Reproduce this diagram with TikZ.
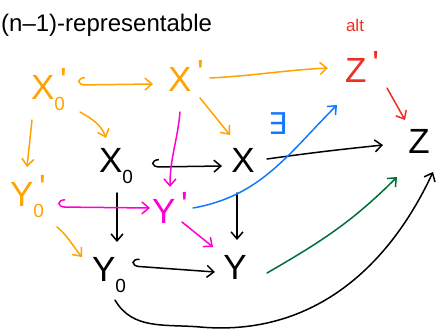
\documentclass[tikz,border=0pt]{standalone}
\usepackage{fontspec}
\setmainfont{Liberation Sans}
\newfontfamily\djv{DejaVu Sans}
\usetikzlibrary{arrows.meta,calc}
\definecolor{orng}{RGB}{255,163,0}
\definecolor{redc}{RGB}{240,45,35}
\definecolor{magc}{RGB}{255,0,210}
\definecolor{bluec}{RGB}{20,120,255}
\definecolor{grnc}{RGB}{0,110,55}
\newcommand\zsub{\raisebox{-0.3em}{\fontsize{19}{19}\selectfont 0}}
\newcommand\prm{\raisebox{7pt}{\,\textquotesingle}}
\begin{document}
\begin{tikzpicture}[x=1pt,y=-1pt,
  obj/.style={font=\fontsize{35}{35}\selectfont, inner sep=0pt, text height=25pt, text depth=0pt},
  arr/.style={line width=1.5pt, line cap=round, -{Straight Barb[length=7pt,width=12pt,line width=1.5pt]}},
  hk/.style={line width=1.5pt, line cap=round, {Hooks[right,length=7pt,width=16pt,line width=1.5pt]}-{Straight Barb[length=7pt,width=12pt,line width=1.5pt]}}]
\useasboundingbox (0,0) rectangle (442,329);
% labels
\node[anchor=west, font=\fontsize{24}{24}\selectfont, inner sep=0pt] (title) at (1,25) {(n--1)-representable};
\node[text=redc, font=\fontsize{17}{17}\selectfont] (alt) at (355,25) {alt};
\node[text=bluec, font=\fontsize{30}{30}\selectfont\djv, inner sep=0pt] (ex) at (278,124) {∃};
% objects
\node[obj, text=orng] (Xp0) at (48,87) {X\rlap{\prm}\zsub};
\node[obj, text=orng] (Xp) at (186,79) {X\prm};
\node[obj, text=redc] (Zp) at (362,70) {Z\prm};
\node[obj] (X0) at (116,160) {X\zsub};
\node[obj] (X) at (243,160) {X};
\node[obj] (Z) at (419,141) {Z};
\node[obj, text=orng] (Yp0) at (27,194) {Y\rlap{\prm}\zsub};
\node[obj, text=magc] (Yp) at (170,211) {Y\prm};
\node[obj] (Y0) at (109,269) {Y\zsub};
\node[obj] (Y) at (235,267) {Y};
\coordinate (low) at (200,327);
% orange
\draw[hk, orng] ($(Xp0)+(30,-2)$) -- ($(Xp)+(-33,5)$);
\draw[arr, orng] ($(Xp)+(24,-1)$) to[out=3,in=183] ($(Zp)+(-34,-2)$);
\draw[arr, orng] ($(Xp0)+(32,25)$) to[out=-30,in=110] ($(X0)+(-10,-22)$);
\draw[arr, orng] ($(Xp)+(14,19)$) -- ($(X)+(-13,-25)$);
\draw[arr, orng] ($(Xp0)+(-16,33)$) -- ($(Yp0)+(0,-27)$);
\draw[arr, orng] ($(Yp0)+(30,33)$) to[out=-40,in=130] ($(Y0)+(-27,-12)$);
% red
\draw[arr, redc] ($(Zp)+(25,18)$) -- ($(Z)+(-14,-21)$);
% black
\draw[hk] ($(X0)+(36,7)$) -- ($(X)+(-21,6)$);
\draw[arr] ($(X)+(24,-1)$) to[out=8,in=186] ($(Z)+(-36,4)$);
\draw[arr] ($(X0)+(1,33)$) -- ($(Y0)+(8,-27)$);
\draw[arr] ($(X)+(-6,33)$) -- ($(Y)+(2,-27)$);
\draw[hk] ($(Y0)+(23,-3)$) -- ($(Y)+(-20,5)$);
\draw[arr] ($(Y0)+(6,31)$) to[out=-60,in=175] (low) to[out=-5,in=-115] ($(Z)+(14,31)$);
% magenta
\draw[hk, magc] ($(Yp0)+(31,13)$) -- ($(Yp)+(-20,-3)$);
\draw[arr, magc] ($(Xp)+(-6,33)$) to[out=-95,in=90] ($(Yp)+(0,-24)$);
\draw[arr, magc] ($(Yp)+(12,11)$) -- ($(Y)+(-22,-20)$);
% blue
\draw[arr, bluec] ($(Yp)+(23,-3)$) to[out=10,in=-135] ($(Zp)+(-25,35)$);
% green
\draw[arr, grnc] ($(Y)+(32,6)$) to[out=30,in=-135] ($(Z)+(-22,36)$);
\end{tikzpicture}
\end{document}
